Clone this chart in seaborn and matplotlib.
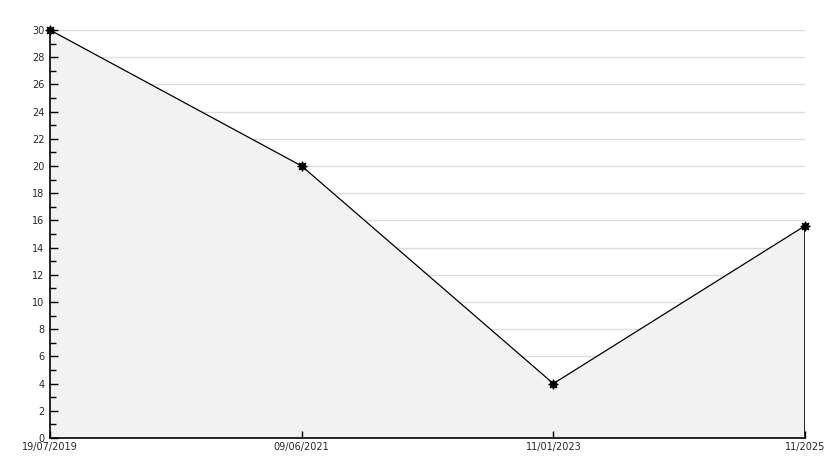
import matplotlib
matplotlib.use("Agg")
import matplotlib.pyplot as plt
import seaborn as sns
import pandas as pd
from matplotlib.ticker import MultipleLocator

dates = ["19/07/2019", "09/06/2021", "11/01/2023", "11/2025"]
values = [30, 20, 4, 15.6]

df = pd.DataFrame({"pos": range(len(dates)), "value": values})

sns.set_style("white")
plt.rcParams['font.family'] = ['DejaVu Sans']

fig = plt.figure(figsize=(8.34, 4.68), dpi=100)
ax = fig.add_axes([50 / 834, 30 / 468, 755 / 834, 408 / 468])
ax.set_axisbelow(False)

ax.set_xlim(0, len(dates) - 1)
ax.set_ylim(0, 30)
ax.yaxis.set_major_locator(MultipleLocator(2))
ax.yaxis.set_minor_locator(MultipleLocator(1))

# horizontal grid lines, hidden under the filled area
grid_y = [y for y in ax.yaxis.get_majorticklocs() if 0 < y <= 30]
ax.hlines(grid_y, 0, len(dates) - 1, colors="#dddddd", lw=1, zorder=1)

ax.fill_between(df["pos"].to_numpy(), df["value"].to_numpy(), 0,
                facecolor="#f2f2f2", edgecolor="none", alpha=1, zorder=2)
ax.plot([df["pos"].iloc[-1]] * 2, [0, values[-1]], color="black", lw=1.2, zorder=4)
sns.lineplot(data=df, x="pos", y="value", ax=ax, color="black", lw=0.9,
             marker=(8, 1, 0), markersize=7, markeredgecolor="black",
             markeredgewidth=0.8, zorder=5, clip_on=False)

ax.set_xticks(df["pos"])
ax.set_xticklabels(dates, fontsize=7)
ax.tick_params(axis="y", which="both", left=True)
ax.tick_params(axis="x", bottom=True)
ax.tick_params(axis="y", which="major", direction="in", length=6, width=1,
               labelsize=7, pad=4, color="black")
ax.tick_params(axis="y", which="minor", direction="in", length=4, width=1, color="black")
ax.tick_params(axis="x", direction="in", length=5, width=1, labelsize=7, pad=3, color="black")
ax.set_xlabel("")
ax.set_ylabel("")

for s in ["top", "right"]:
    ax.spines[s].set_visible(False)
for s in ["left", "bottom"]:
    ax.spines[s].set_color("black")
    ax.spines[s].set_linewidth(1.2)
    ax.spines[s].set_zorder(6)

fig.savefig("out.png", dpi=100)
